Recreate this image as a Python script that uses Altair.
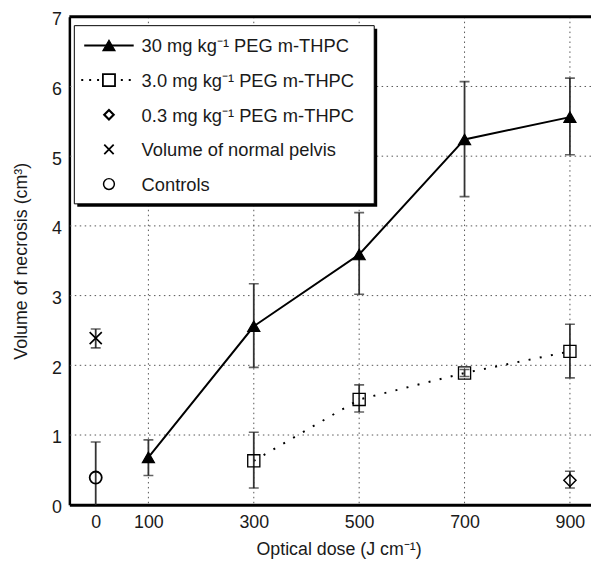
import altair as alt
import pandas as pd

# ---------------- data ----------------
series_names = [
    "30 mg kg\u207b\u00b9 PEG m-THPC",
    "3.0 mg kg\u207b\u00b9 PEG m-THPC",
    "0.3 mg kg\u207b\u00b9 PEG m-THPC",
    "Volume of normal pelvis",
    "Controls",
]

dose30 = [100, 300, 500, 700, 900]
vol30 = [0.68, 2.56, 3.59, 5.24, 5.56]
lo30 = [0.42, 1.97, 3.02, 4.42, 5.02]
hi30 = [0.93, 3.17, 4.19, 6.07, 6.12]

dose3 = [300, 500, 700, 900]
vol3 = [0.63, 1.51, 1.89, 2.20]
lo3 = [0.24, 1.33, 1.84, 1.82]
hi3 = [1.04, 1.72, 1.94, 2.59]

dose03 = [900]
vol03 = [0.35]
lo03 = [0.24]
hi03 = [0.48]

dose_pelvis = [0]
vol_pelvis = [2.39]
lo_pelvis = [2.25]
hi_pelvis = [2.52]

dose_ctrl = [0]
vol_ctrl = [0.39]
lo_ctrl = [-0.13]
hi_ctrl = [0.90]

x_ticks = [0, 100, 300, 500, 700, 900]
x_grid = [100, 300, 500, 700, 900]
y_ticks = [0, 1, 2, 3, 4, 5, 6, 7]
y_grid = [1, 2, 3, 4, 5, 6]

# ---------------- build tables ----------------
rows = []
for name, d, v, lo, hi in [
    (series_names[0], dose30, vol30, lo30, hi30),
    (series_names[1], dose3, vol3, lo3, hi3),
    (series_names[2], dose03, vol03, lo03, hi03),
    (series_names[3], dose_pelvis, vol_pelvis, lo_pelvis, hi_pelvis),
    (series_names[4], dose_ctrl, vol_ctrl, lo_ctrl, hi_ctrl),
]:
    for a, b, c, e in zip(d, v, lo, hi):
        rows.append({"series": name, "dose": a, "vol": b, "lo": c, "hi": e})
df = pd.DataFrame(rows)

FONT = "Liberation Sans"
TXT = "#1a1a1a"

xscale = alt.Scale(domain=[-50, 940], nice=False, zero=False)
yscale = alt.Scale(domain=[0, 7], nice=False, zero=False)

x_axis = alt.Axis(
    values=x_ticks, grid=False, ticks=False, labelFontSize=18, labelPadding=9,
    domainColor="black", domainWidth=3, labelColor=TXT, titleColor=TXT,
    title="Optical dose (J cm\u207b\u00b9)", titleFontSize=18, titleFontWeight="normal",
    titlePadding=9, labelFont=FONT, titleFont=FONT, titleX=272,
)
y_axis = alt.Axis(
    values=y_ticks, grid=False, ticks=False, labelFontSize=18, labelPadding=8,
    labelOffset=3,
    domainColor="black", domainWidth=2.5, labelColor=TXT, titleColor=TXT,
    title="Volume of necrosis (cm\u00b3)", titleFontSize=18, titleFontWeight="normal",
    titlePadding=21, labelFont=FONT, titleFont=FONT,
)

X = lambda f="dose": alt.X(f"{f}:Q", scale=xscale, axis=x_axis)
Y = lambda f="vol": alt.Y(f"{f}:Q", scale=yscale, axis=y_axis)

grid_dash = [1.5, 3.5]
gy = alt.Chart(pd.DataFrame({"g": y_grid})).mark_rule(
    color="#555", strokeWidth=1, strokeDash=grid_dash
).encode(y=Y("g"))
gx = alt.Chart(pd.DataFrame({"g": x_grid})).mark_rule(
    color="#555", strokeWidth=1, strokeDash=grid_dash
).encode(x=X("g"))
top = alt.Chart(pd.DataFrame({"g": [7]})).mark_rule(
    color="black", strokeWidth=3
).encode(y=Y("g"))

err = alt.Chart(df).mark_rule(color="#333", strokeWidth=1.8, clip=True).encode(
    x=X(), y=Y("lo"), y2="hi:Q"
)
cap_lo = alt.Chart(df).mark_tick(
    orient="horizontal", color="#222", size=10, thickness=1.6, clip=True
).encode(x=X(), y=Y("lo"))
cap_hi = alt.Chart(df).mark_tick(
    orient="horizontal", color="#222", size=10, thickness=1.6, clip=True
).encode(x=X(), y=Y("hi"))

line30 = alt.Chart(df[df.series == series_names[0]]).mark_line(
    color="black", strokeWidth=2
).encode(x=X(), y=Y())
line3 = alt.Chart(df[df.series == series_names[1]]).mark_line(
    color="black", strokeWidth=2, strokeDash=[2, 9.5]
).encode(x=X(), y=Y())

cross_path = "M-1,-1L1,1M-1,1L1,-1"
shapes = ["triangle-up", "square", "diamond", cross_path, "circle"]
fills = ["black", "transparent", "transparent", "transparent", "transparent"]
sizes = [150, 150, 90, 90, 120]
strokes = [1.2, 1.8, 2.2, 1.8, 1.5]

pts = alt.Chart(df).mark_point(opacity=1, color="black", clip=True).encode(
    x=X(), y=Y(),
    shape=alt.Shape("series:N", scale=alt.Scale(domain=series_names, range=shapes), legend=None),
    fill=alt.Fill("series:N", scale=alt.Scale(domain=series_names, range=fills), legend=None),
    size=alt.Size("series:N", scale=alt.Scale(domain=series_names, range=sizes), legend=None),
    strokeWidth=alt.StrokeWidth("series:N", scale=alt.Scale(domain=series_names, range=strokes), legend=None),
)

# ---------------- manual legend ----------------
one = pd.DataFrame({"k": [0]})
leg_layers = []
leg_layers.append(
    alt.Chart(one).mark_rect(color="black").encode(
        x=alt.value(8), x2=alt.value(311), y=alt.value(12), y2=alt.value(192)
    )
)
leg_layers.append(
    alt.Chart(one).mark_rect(fill="white", stroke="black", strokeWidth=1).encode(
        x=alt.value(5), x2=alt.value(308), y=alt.value(9), y2=alt.value(189)
    )
)
row_y = [29, 64, 99, 134, 169]
leg_layers.append(
    alt.Chart(one).mark_rule(color="black", strokeWidth=2).encode(
        x=alt.value(15), x2=alt.value(65), y=alt.value(row_y[0])
    )
)
leg_layers.append(
    alt.Chart(one).mark_rule(color="black", strokeWidth=2, strokeDash=[2, 6]).encode(
        x=alt.value(12), x2=alt.value(66), y=alt.value(row_y[1])
    )
)
for i, name in enumerate(series_names):
    leg_layers.append(
        alt.Chart(pd.DataFrame({"label": [name]})).mark_point(
            shape=shapes[i], size=sizes[i], strokeWidth=strokes[i], color="black",
            fill="white" if fills[i] == "transparent" else "black",
            filled=False, opacity=1, fillOpacity=1,
        ).encode(x=alt.value(40), y=alt.value(row_y[i]))
    )
    leg_layers.append(
        alt.Chart(pd.DataFrame({"label": [name]})).mark_text(
            align="left", baseline="middle", fontSize=18.5, font=FONT, color=TXT
        ).encode(x=alt.value(73), y=alt.value(row_y[i] + 1), text="label:N")
    )

chart = alt.layer(
    gy, gx, top, line3, line30, err, cap_lo, cap_hi, pts, *leg_layers
).properties(
    width=527, height=493,
    autosize=alt.AutoSizeParams(type="none"),
    padding={"left": 62, "top": 6, "right": 0, "bottom": 55},
).configure_view(stroke=None).configure(background="white")

chart.save("out.html", embed_options={"renderer": "svg", "actions": False})
